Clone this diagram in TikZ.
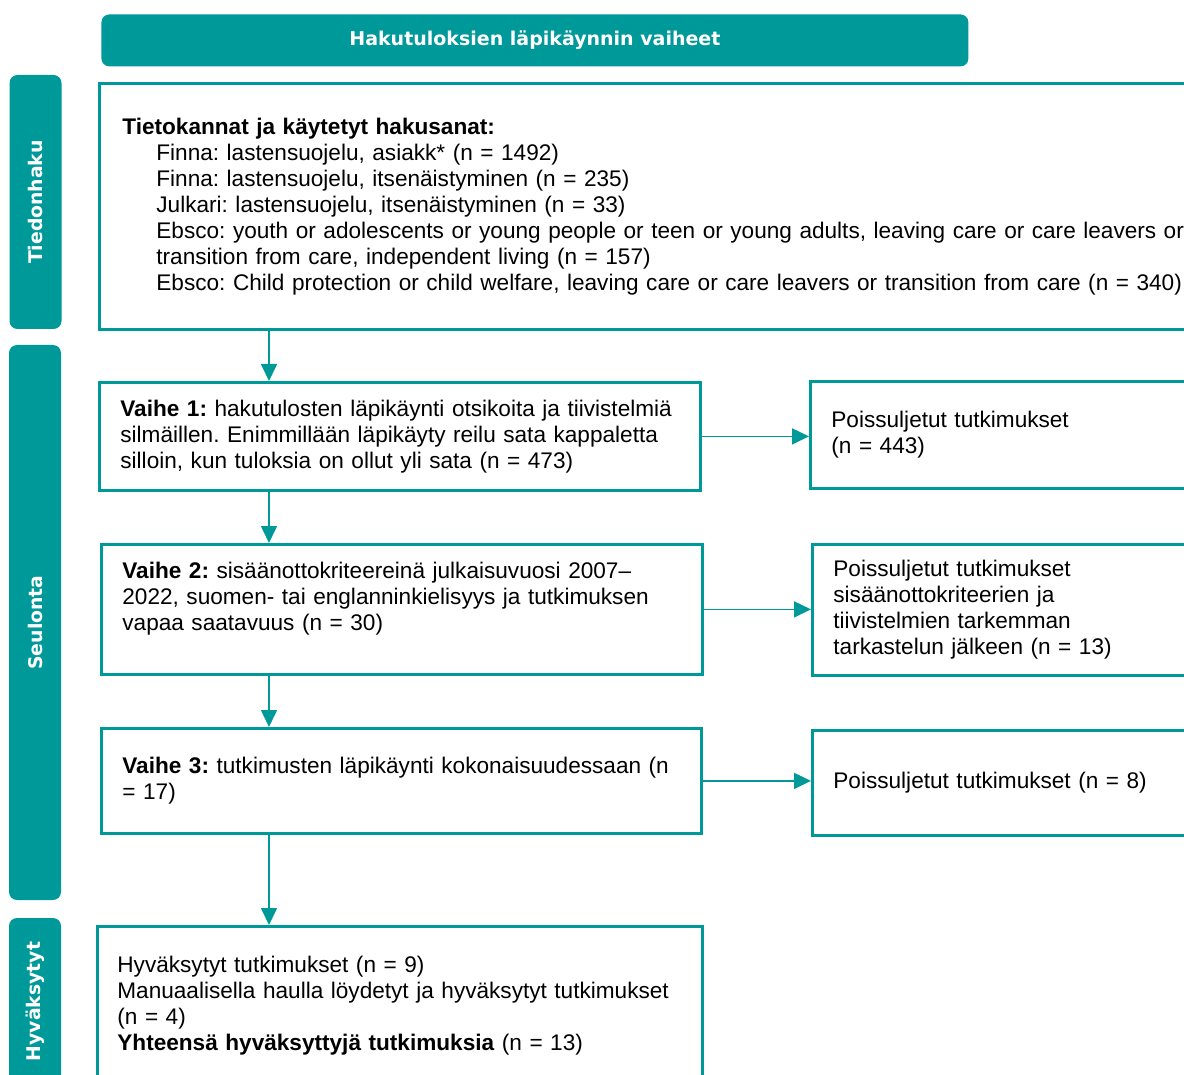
\documentclass[tikz,border=0pt]{standalone}
\usepackage{fontspec}
\setmainfont{Liberation Sans}
\newfontfamily\otsikkofont{DejaVu Sans}
\usepackage{xcolor}
\usepackage{tikz}
\usetikzlibrary{arrows.meta,calc,positioning}
\definecolor{petrol}{RGB}{0,153,153}
\frenchspacing
\hyphenpenalty=10000
\exhyphenpenalty=10000

\begin{document}
\begin{tikzpicture}[x=0.5pt, y=-0.5pt,
    tab/.style={fill=petrol, rounded corners=4pt, rotate=90, minimum height=26pt, inner sep=0pt,
      text=white, font=\otsikkofont\bfseries\fontsize{9.4}{11}\selectfont},
    box/.style={draw=petrol, line width=1.4pt, anchor=north west, align=left, inner xsep=10.5pt,
      inner ysep=0pt, font=\fontsize{11.3}{13}\selectfont},
    arr/.style={color=petrol, line width=0.8pt, -{Triangle[length=8.5pt,width=8pt]}}]
  \useasboundingbox (0,0) rectangle (1184,1075);
  \clip (0,0) rectangle (1184,1075);

  \node[fill=petrol, rounded corners=4pt, anchor=north west, minimum width=433.5pt, minimum height=26pt,
    text=white, font=\otsikkofont\bfseries\fontsize{9.5}{11}\selectfont] (otsikko) at (101,14)
    {Hakutuloksien läpikäynnin vaiheet};

  \node[tab, minimum width=127pt] (tiedonhaku) at (35.5,202) {Tiedonhaku};
  \node[tab, minimum width=277.5pt] (seulonta) at (35,622.5) {Seulonta};
  \node[tab, minimum width=83.5pt] (hyvaksytyt) at (35,1001.5) {Hyväksytyt};

  \node[box, inner xsep=11.5pt, minimum width=563pt, minimum height=123pt, text width=540pt] (haku) at (98,82)
    {\textbf{Tietokannat ja käytetyt hakusanat:}\\
     \hspace*{17pt}Finna: lastensuojelu, asiakk* (n = 1492)\\
     \hspace*{17pt}Finna: lastensuojelu, itsenäistyminen (n = 235)\\
     \hspace*{17pt}Julkari: lastensuojelu, itsenäistyminen (n = 33)\\
     \hspace*{17pt}Ebsco: youth or adolescents or young people or teen or young adults, leaving care or care leavers or\\
     \hspace*{17pt}transition from care, independent living (n = 157)\\
     \hspace*{17pt}Ebsco: Child protection or child welfare, leaving care or care leavers or transition from care (n = 340)};

  \node[box, minimum width=300.5pt, minimum height=54pt, text width=279.5pt] (vaihe1) at (98,381)
    {\textbf{Vaihe 1:} hakutulosten läpikäynti otsikoita ja tiivistelmiä\\
     silmäillen. Enimmillään läpikäyty reilu sata kappaletta\\
     silloin, kun tuloksia on ollut yli sata (n = 473)};
  \node[box, minimum width=300.5pt, minimum height=65pt, text width=279.5pt] (vaihe2) at (100,543)
    {\textbf{Vaihe 2:} sisäänottokriteereinä julkaisuvuosi 2007–\\
     2022, suomen- tai englanninkielisyys ja tutkimuksen\\
     vapaa saatavuus (n = 30)\\ \mbox{}};
  \node[box, minimum width=300pt, minimum height=52.5pt, text width=279pt] (vaihe3) at (100,727)
    {\textbf{Vaihe 3:} tutkimusten läpikäynti kokonaisuudessaan (n\\
     = 17)};
  \node[box, inner xsep=10pt, minimum width=302.5pt, minimum height=79pt, text width=282.5pt] (tulos) at (96,925)
    {Hyväksytyt tutkimukset (n = 9)\\
     Manuaalisella haulla löydetyt ja hyväksytyt tutkimukset\\
     (n = 4)\\
     \textbf{Yhteensä hyväksyttyjä tutkimuksia} (n = 13)};

  \node[box, minimum width=195.5pt, minimum height=53.5pt, text width=174.5pt] (poisto1) at (809,380)
    {Poissuljetut tutkimukset\\
     (n = 443)};
  \node[box, minimum width=194.5pt, minimum height=65.5pt, text width=173.5pt] (poisto2) at (811,543)
    {Poissuljetut tutkimukset\\
     sisäänottokriteerien ja\\
     tiivistelmien tarkemman\\
     tarkastelun jälkeen (n = 13)};
  \node[box, minimum width=194.5pt, minimum height=52.5pt, text width=173.5pt] (poisto3) at (811,729)
    {Poissuljetut tutkimukset (n = 8)};

  \coordinate (runko) at (269,0);
  \path[arr]
    (haku.south -| runko) edge (vaihe1.north -| runko)
    (vaihe1.south -| runko) edge (vaihe2.north -| runko)
    (vaihe2.south -| runko) edge (vaihe3.north -| runko)
    (vaihe3.south -| runko) edge (tulos.north -| runko)
    (vaihe1.east) edge (vaihe1.east -| poisto1.west)
    (vaihe2.east) edge (vaihe2.east -| poisto2.west)
    (vaihe3.east) edge (vaihe3.east -| poisto3.west)
    ;
\end{tikzpicture}
\end{document}
